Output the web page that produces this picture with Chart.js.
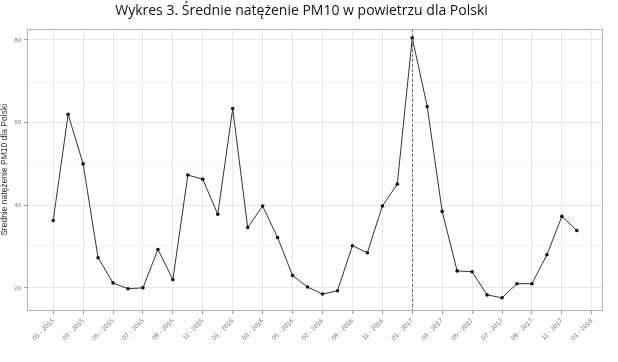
<!DOCTYPE html>
<html>
<head>
<meta charset="utf-8">
<script src="https://cdn.jsdelivr.net/npm/chart.js@4"></script>
<style>
html, body { margin: 0; padding: 0; background: #fff; }
#wrap { width: 618px; height: 362px; }
</style>
</head>
<body>
<div id="wrap"><canvas id="pm10Chart" width="618" height="362"></canvas></div>
<script>
// Monthly data, 01-2015 .. 12-2017
const months = [
    '01 - 2015', '02 - 2015', '03 - 2015', '04 - 2015', '05 - 2015', '06 - 2015',
    '07 - 2015', '08 - 2015', '09 - 2015', '10 - 2015', '11 - 2015', '12 - 2015',
    '01 - 2016', '02 - 2016', '03 - 2016', '04 - 2016', '05 - 2016', '06 - 2016',
    '07 - 2016', '08 - 2016', '09 - 2016', '10 - 2016', '11 - 2016', '12 - 2016',
    '01 - 2017', '02 - 2017', '03 - 2017', '04 - 2017', '05 - 2017', '06 - 2017',
    '07 - 2017', '08 - 2017', '09 - 2017', '10 - 2017', '11 - 2017', '12 - 2017'
];
const pm10 = [
    36.3, 62.0, 50.0, 27.3, 21.2, 19.8, 20.0, 29.3, 22.0, 47.3, 46.3, 37.8,
    63.4, 34.6, 39.8, 32.2, 23.0, 20.2, 18.5, 19.3, 30.2, 28.5, 39.8, 45.1,
    80.5, 63.9, 38.5, 24.1, 23.9, 18.3, 17.6, 21.0, 21.0, 28.0, 37.3, 33.9
];
const tickLabels = [
    '01 - 2015', '03 - 2015', '05 - 2015', '07 - 2015', '09 - 2015', '11 - 2015',
    '01 - 2016', '03 - 2016', '05 - 2016', '07 - 2016', '09 - 2016', '11 - 2016',
    '01 - 2017', '03 - 2017', '05 - 2017', '07 - 2017', '09 - 2017', '11 - 2017',
    '01 - 2018'
];
const yTickValues = [20, 40, 60, 80];
const markerMonth = '01 - 2017';

// frame around the plot + dashed marker line
const framePlugin = {
    id: 'frame',
    afterDatasetsDraw(chart) {
        const { ctx, chartArea: a, scales } = chart;
        ctx.save();
        const mx = Math.round(scales.x.getPixelForValue(months.indexOf(markerMonth))) + 0.5;
        ctx.strokeStyle = '#666';
        ctx.lineWidth = 1;
        ctx.setLineDash([3, 2]);
        ctx.beginPath();
        ctx.moveTo(mx, a.top);
        ctx.lineTo(mx, a.bottom);
        ctx.stroke();
        ctx.setLineDash([]);
        ctx.strokeStyle = '#b3b3b3';
        ctx.strokeRect(Math.round(a.left) + 0.5, Math.round(a.top) + 0.5,
            Math.round(a.right - a.left) - 1, Math.round(a.bottom - a.top) - 1);
        ctx.restore();
    }
};

const ctx = document.getElementById('pm10Chart').getContext('2d');
const chart = new Chart(ctx, {
    type: 'line',
    data: {
        datasets: [{
            data: pm10.map((v, i) => ({ x: i, y: v })),
            borderColor: '#333',
            borderWidth: 1,
            pointRadius: 1.8,
            pointBackgroundColor: '#111',
            pointBorderColor: '#111',
            pointBorderWidth: 0,
            tension: 0,
            fill: false
        }]
    },
    options: {
        responsive: false,
        animation: false,
        layout: { padding: { left: 0, right: 15, top: 0, bottom: 0 } },
        plugins: {
            legend: { display: false },
            tooltip: { enabled: false },
            title: {
                display: true,
                text: 'Wykres 3. Średnie natężenie PM10 w powietrzu dla Polski',
                color: '#111',
                font: { family: 'Open Sans', size: 14, weight: 'normal' },
                padding: { top: 3, bottom: 9 }
            }
        },
        scales: {
            x: {
                type: 'linear',
                min: -1.75,
                max: 36.75,
                afterBuildTicks: s => { s.ticks = tickLabels.map((l, i) => ({ value: i * 2 })); },
                afterFit: s => { s.height = 51; },
                ticks: {
                    autoSkip: false,
                    maxRotation: 45,
                    minRotation: 45,
                    padding: 3,
                    color: '#777',
                    font: { family: 'Liberation Sans', size: 6.5 },
                    callback: v => tickLabels[Math.round(v / 2)]
                },
                grid: { color: '#e8e8e8', lineWidth: 1, tickLength: 3, tickColor: '#999' },
                border: { display: false }
            },
            y: {
                min: 14.4,
                max: 82.7,
                afterBuildTicks: s => {
                    const t = [];
                    for (let v = 20; v <= 80; v += 10) t.push({ value: v });
                    s.ticks = t;
                },
                afterFit: s => { s.width = 27; },
                ticks: {
                    padding: 3,
                    color: '#777',
                    font: { family: 'Liberation Sans', size: 6 },
                    callback: v => yTickValues.includes(v) ? String(v) : ''
                },
                grid: {
                    color: c => (c.tick && yTickValues.includes(c.tick.value)) ? '#e6e6e6' : '#f2f2f2',
                    tickColor: c => (c.tick && yTickValues.includes(c.tick.value)) ? '#999' : 'rgba(0,0,0,0)',
                    tickLength: 3
                },
                border: { display: false },
                title: {
                    display: true,
                    text: 'Średnie natężenie PM10 dla Polski',
                    color: '#333',
                    font: { family: 'Liberation Sans', size: 8.5 },
                    padding: { top: 0, bottom: 0 }
                }
            }
        }
    },
    plugins: [framePlugin]
});
</script>
</body>
</html>
